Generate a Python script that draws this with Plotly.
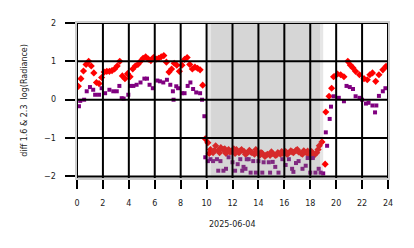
import plotly.graph_objects as go

# ---------------- data ----------------
x_ticks = [0, 2, 4, 6, 8, 10, 12, 14, 16, 18, 20, 22, 24]
y_ticks = [-2, -1, 0, 1, 2]
y_tick_labels = ["\u22122", "\u22121", "0", "1", "2"]
x_title = "2025-06-04"
y_title = "diff 1.6 & 2.3\u00a0 log(Radiance)"

night_outer = [10.1, 19.0]
night_inner = [10.35, 18.75]

red_t = [0.1, 0.3, 0.5, 0.7, 0.9, 1.1, 1.3, 1.5, 1.7, 1.9, 2.1, 2.3, 2.5, 2.7, 2.9,
         3.1, 3.3, 3.5, 3.7, 3.9, 4.1, 4.3, 4.5, 4.7, 4.9, 5.1, 5.3, 5.5, 5.7, 5.9,
         6.1, 6.3, 6.5, 6.7, 6.9, 7.1, 7.3, 7.5, 7.7, 7.9, 8.1, 8.3, 8.5, 8.7, 8.9,
         9.1, 9.3, 9.5, 9.7,
         9.9, 10.1, 10.3, 10.5, 10.7, 10.9, 11.1, 11.3, 11.5, 11.7, 11.9, 12.1, 12.3,
         12.5, 12.7, 12.9, 13.1, 13.3, 13.5, 13.7, 13.9, 14.1, 14.3, 14.5, 14.7, 14.9,
         15.1, 15.3, 15.5, 15.7, 15.9, 16.1, 16.3, 16.5, 16.7, 16.9, 17.1, 17.3, 17.5,
         17.7, 17.9, 18.1, 18.3, 18.5, 18.7, 18.9,
         10.2, 10.6, 11.0, 11.4, 11.8, 12.2, 12.6, 13.0, 13.4, 13.8, 14.2, 14.6, 15.0,
         15.4, 15.8, 16.2, 16.6, 17.0, 17.4, 17.8, 18.2, 18.6,
         19.15, 19.2, 19.45, 19.65, 19.8, 20.1, 20.35, 20.6, 20.9, 21.1, 21.3, 21.5,
         21.8, 22.15, 22.4, 22.6, 22.8, 23.05, 23.3, 23.6, 23.85]
red_v = [0.35, 0.55, 0.75, 0.92, 1.0, 0.88, 0.7, 0.45, 0.42, 0.58, 0.72, 0.74, 0.74, 0.76, 0.8,
         0.88, 1.0, 0.62, 0.55, 0.68, 0.6, 0.8, 0.88, 0.92, 1.0, 1.08, 1.12, 1.06, 1.02, 1.1,
         1.06, 1.08, 1.12, 1.15, 0.98, 0.72, 0.8, 0.95, 0.9, 0.74, 0.9, 1.05, 1.1, 0.92, 0.8,
         0.85, 0.82, 0.78, 0.38,
         -1.02, -1.12, -1.3, -1.38, -1.2, -1.32, -1.25, -1.3, -1.4, -1.3, -1.35, -1.28, -1.3,
         -1.38, -1.3, -1.35, -1.4, -1.32, -1.38, -1.42, -1.35, -1.45, -1.4, -1.48, -1.42, -1.45,
         -1.4, -1.45, -1.38, -1.42, -1.4, -1.35, -1.4, -1.33, -1.38, -1.32, -1.36, -1.4, -1.33,
         -1.38, -1.42, -1.35, -1.45, -1.38, -1.2, -1.1,
         -1.4, -1.32, -1.38, -1.28, -1.36, -1.4, -1.33, -1.42, -1.36, -1.3, -1.38, -1.44, -1.36,
         -1.44, -1.35, -1.42, -1.36, -1.3, -1.42, -1.34, -1.4, -1.3,
         -1.68, -0.32, 0.09, 0.3, 0.6, 0.67, 0.65, 0.6, 1.0, 0.9, 0.83, 0.74,
         0.65, 0.55, 0.52, 0.65, 0.7, 0.48, 0.65, 0.78, 0.87]

purple_t = [0.15, 0.25, 0.55, 0.75, 1.0, 1.25, 1.4, 1.7, 1.9, 2.17, 2.5, 2.8, 3.07, 3.27,
            3.45, 3.6, 3.96, 4.15, 4.35, 4.6, 4.9, 5.2, 5.4, 5.6, 5.85, 6.2, 6.4, 6.66,
            6.94, 7.2, 7.4, 7.45, 7.66, 7.8, 8.1, 8.3, 8.54, 8.75, 8.96, 9.2, 9.5, 9.65, 9.83,
            9.9, 10.1, 10.3, 10.5, 10.8, 10.9, 11.07, 11.3, 11.5, 11.7, 12.0, 12.2, 12.4,
            12.6, 12.75, 12.85, 13.0, 13.1, 13.25, 13.4, 13.6, 13.8, 14.0, 14.3, 14.4, 14.8,
            14.9, 15.1, 15.3, 15.55, 15.85, 16.1, 16.35, 16.6, 16.7, 16.9, 17.1, 17.4, 17.65,
            17.8, 18.0, 18.2, 18.4, 18.65, 18.8, 19.0,
            19.2, 19.3, 19.5, 19.6, 19.8, 20.2, 20.6, 20.8, 21.05, 21.3, 21.5, 21.8, 22.0,
            22.3, 22.5, 22.8, 23.0, 23.1, 23.3, 23.6, 23.8]
purple_v = [-0.17, -0.03, 0.0, 0.22, 0.33, 0.26, 0.13, 0.13, 0.3, 0.17, 0.26, 0.22, 0.22, 0.36,
            0.04, 0.03, 0.13, 0.36, 0.36, 0.39, 0.45, 0.55, 0.55, 0.39, 0.3, 0.5, 0.48, 0.45,
            0.52, 0.39, 0.22, 0.0, 0.35, 0.3, 0.17, 0.17, 0.36, 0.45, 0.28, 0.19, 0.17, 0.0, -0.43,
            -1.5, -1.6, -1.55, -1.6, -1.55, -1.85, -1.6, -1.85, -1.8, -1.5, -1.63, -1.85, -1.68,
            -1.55, -1.85, -1.75, -1.8, -1.55, -1.55, -1.9, -1.6, -1.9, -1.6, -1.9, -1.63, -1.63,
            -1.9, -1.62, -1.75, -1.9, -1.55, -1.7, -1.55, -1.8, -1.88, -1.65, -1.6, -1.8, -1.72,
            -1.52, -1.9, -1.52, -1.9, -1.8, -1.9, -1.92,
            -0.85, -1.2, -0.5, -0.18, 0.09, 0.05, -0.04, 0.36, 0.33, 0.28, 0.09, 0.05, 0.0,
            -0.1, -0.08, -0.15, -0.33, -0.15, 0.1, 0.22, 0.3]

# ---------------- figure ----------------
fig = go.Figure()
fig.add_trace(go.Scatter(x=red_t, y=red_v, mode="markers",
                         marker=dict(symbol="diamond", size=5.5, color="#ff0000",
                                     line=dict(width=0)),
                         showlegend=False))
fig.add_trace(go.Scatter(x=purple_t, y=purple_v, mode="markers",
                         marker=dict(symbol="square", size=4, color="#800080",
                                     line=dict(width=0)),
                         showlegend=False))

shapes = []
shapes.append(dict(type="rect", xref="x", yref="paper", x0=night_outer[0], x1=night_outer[1],
                   y0=0, y1=1, fillcolor="rgba(128,128,128,0.2)", line=dict(width=0),
                   layer="above"))
shapes.append(dict(type="rect", xref="x", yref="paper", x0=night_inner[0], x1=night_inner[1],
                   y0=0, y1=1, fillcolor="rgba(128,128,128,0.16)", line=dict(width=0),
                   layer="above"))
for xv in x_ticks:
    shapes.append(dict(type="line", xref="x", yref="paper", x0=xv, x1=xv, y0=0, y1=1,
                       line=dict(color="black", width=2), layer="above"))
for yv in y_ticks:
    shapes.append(dict(type="line", xref="paper", yref="y", x0=0, x1=1, y0=yv, y1=yv,
                       line=dict(color="black", width=2), layer="above"))

font_main = dict(size=8, family="DejaVu Sans", color="#1a1a1a")
annotations = [
    dict(text=x_title, xref="paper", yref="paper", x=0.5, y=-0.3,
         xanchor="center", yanchor="middle", showarrow=False, font=font_main),
    dict(text=y_title, xref="paper", yref="paper", x=-0.17, y=0.5,
         xanchor="center", yanchor="middle", showarrow=False, textangle=-90, font=font_main),
]
for yv, lab in zip(y_ticks, y_tick_labels):
    annotations.append(dict(text=lab, xref="paper", yref="y", x=-0.062, y=yv,
                            xanchor="right", yanchor="middle", showarrow=False,
                            font=font_main))

fig.update_layout(
    width=414, height=248,
    margin=dict(l=77, r=26, t=23, b=70, pad=0),
    paper_bgcolor="white", plot_bgcolor="white",
    font=font_main,
    shapes=shapes,
    annotations=annotations,
)
fig.update_xaxes(range=[0, 24], tickvals=x_ticks, ticktext=[str(v) for v in x_ticks],
                 showgrid=False, zeroline=False, ticks="outside", ticklen=9, tickwidth=2,
                 tickcolor="black", ticklabelstandoff=8,
                 showline=True, linecolor="#cccccc", linewidth=1.5, mirror=True)
fig.update_yaxes(range=[-2.04, 2.0], tickvals=y_ticks, showticklabels=False,
                 showgrid=False, zeroline=False, ticks="outside", ticklen=10, tickwidth=2,
                 tickcolor="black",
                 showline=True, linecolor="#cccccc", linewidth=1.5, mirror=True)

fig.write_html("out.html")
